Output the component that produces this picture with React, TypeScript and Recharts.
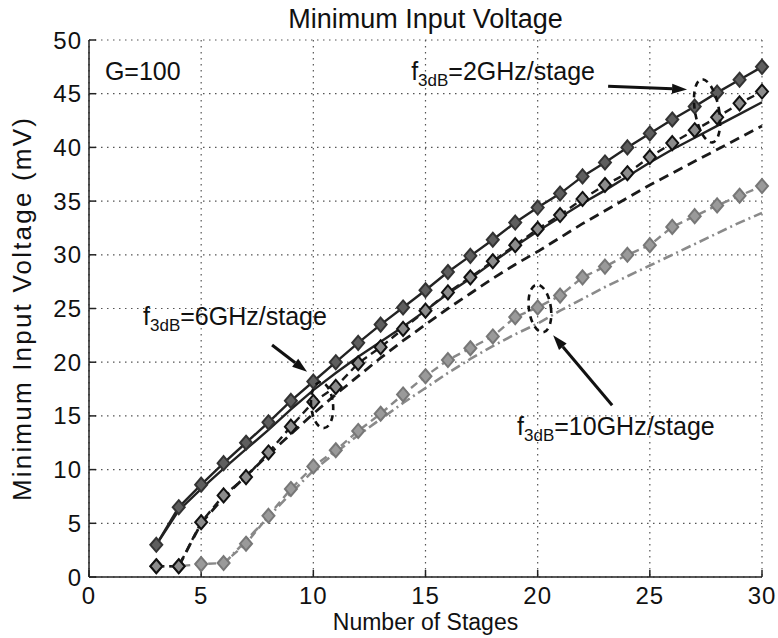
import React from 'react';
import {
  LineChart,
  Line,
  XAxis,
  YAxis,
  CartesianGrid,
  ReferenceDot,
  ReferenceLine,
} from 'recharts';

// number of stages (x values)
const stages = [3, 4, 5, 6, 7, 8, 9, 10, 11, 12, 13, 14, 15, 16, 17, 18, 19, 20, 21, 22, 23, 24, 25, 26, 27, 28, 29, 30];

// f3dB = 2GHz/stage
const sim2GHz = [3.0, 6.5, 8.6, 10.6, 12.5, 14.4, 16.4, 18.2, 20.0, 21.8, 23.5, 25.1, 26.7, 28.4, 29.9, 31.4, 33.0, 34.4, 35.7, 37.3, 38.6, 40.0, 41.3, 42.6, 43.8, 45.1, 46.3, 47.5];
const model2GHz = [3.0, 6.2, 8.2, 10.1, 11.9, 13.7, 15.6, 17.4, 19.0, 20.5, 21.9, 23.3, 24.8, 26.4, 27.8, 29.3, 30.8, 32.2, 33.5, 34.8, 36.0, 37.3, 38.6, 39.8, 40.9, 42.0, 43.1, 44.2];

// f3dB = 6GHz/stage
const sim6GHz = [1.0, 1.0, 5.1, 7.6, 9.3, 11.6, 14.0, 16.3, 17.7, 19.9, 21.4, 23.1, 24.8, 26.5, 27.9, 29.4, 30.9, 32.4, 33.7, 35.2, 36.5, 37.6, 39.1, 40.4, 41.6, 42.8, 44.1, 45.2];
const model6GHz = [null, 1.0, 5.0, 7.4, 9.4, 11.4, 13.3, 15.2, 17.0, 18.7, 20.4, 22.0, 23.5, 25.0, 26.4, 27.8, 29.1, 30.3, 31.6, 32.9, 34.1, 35.3, 36.5, 37.6, 38.7, 39.8, 40.9, 42.0];

// f3dB = 10GHz/stage
const sim10GHz = [1.0, 1.0, 1.2, 1.3, 3.1, 5.7, 8.2, 10.3, 11.8, 13.6, 15.2, 17.0, 18.7, 20.2, 21.3, 22.4, 24.2, 25.1, 26.2, 27.9, 28.9, 30.0, 30.9, 32.6, 33.6, 34.6, 35.5, 36.4];
const model10GHz = [null, null, null, 1.2, 3.4, 5.6, 7.8, 9.9, 11.6, 13.2, 14.7, 16.2, 17.6, 19.0, 20.3, 21.5, 22.6, 23.6, 24.8, 25.9, 27.0, 28.0, 29.0, 30.0, 31.0, 32.0, 33.0, 33.9];

const xTicks = [0, 5, 10, 15, 20, 25, 30];
const yTicks = [0, 5, 10, 15, 20, 25, 30, 35, 40, 45, 50];

// annotations, in data coordinates
const textNotes = [
  { x: 0.71, y: 46.3, main: 'G=100', sub: '', rest: '' },
  { x: 14.36, y: 46.3, main: 'f', sub: '3dB', rest: '=2GHz/stage' },
  { x: 2.41, y: 23.5, main: 'f', sub: '3dB', rest: '=6GHz/stage' },
  { x: 19.08, y: 13.2, main: 'f', sub: '3dB', rest: '=10GHz/stage' },
];
const arrows = [
  { from: [23.14, 45.7], to: [26.66, 45.4] },
  { from: [8.16, 21.6], to: [9.72, 19.1] },
  { from: [23.32, 16.0], to: [20.69, 22.5] },
];
const ellipses = [
  { x: 27.55, y: 43.4, rx: 12, ry: 32, rot: -10 },
  { x: 10.39, y: 16.0, rx: 11, ry: 23, rot: -5 },
  { x: 20.1, y: 25.0, rx: 11, ry: 24, rot: -8 },
];

const data = stages.map((n, i) => ({
  n,
  sim2: sim2GHz[i],
  model2: model2GHz[i],
  sim6: sim6GHz[i],
  model6: model6GHz[i],
  sim10: sim10GHz[i],
  model10: model10GHz[i],
}));

const FONT = '"Liberation Sans", Arial, Helvetica, sans-serif';
const FS = 23;
const TICK_FS = 24;
const NOTE_FS = 25;

const diamond = (fill: string, stroke: string) => (props: any) => {
  const { cx, cy, index } = props;
  if (cx == null || cy == null || isNaN(cy)) return <g key={index} />;
  return (
    <path
      key={index}
      d={`M${cx},${cy - 7} L${cx + 6},${cy} L${cx},${cy + 7} L${cx - 6},${cy} Z`}
      fill={fill}
      stroke={stroke}
      strokeWidth={2}
    />
  );
};

const arrowShape = (p: any) => {
  const { x1, y1, x2, y2 } = p;
  const ang = Math.atan2(y2 - y1, x2 - x1);
  const L = 15;
  const W = 5;
  const bx = x2 - L * Math.cos(ang);
  const by = y2 - L * Math.sin(ang);
  const px = -Math.sin(ang) * W;
  const py = Math.cos(ang) * W;
  return (
    <g>
      <line x1={x1} y1={y1} x2={bx} y2={by} stroke="#111" strokeWidth={3} />
      <polygon points={`${x2},${y2} ${bx + px},${by + py} ${bx - px},${by - py}`} fill="#111" />
    </g>
  );
};

export default function App() {
  return (
    <div style={{ position: 'absolute', left: 0, top: 0, width: 778, height: 638, background: '#fff' }}>
      <svg width={778} height={40} style={{ position: 'absolute', left: 0, top: 0 }}>
        <text x={425.5} y={28} textAnchor="middle" fontSize={27} fontFamily={FONT} fill="#111">
          Minimum Input Voltage
        </text>
      </svg>
      <LineChart
        width={778}
        height={638}
        data={data}
        margin={{ top: 40, right: 16, bottom: 0, left: 0 }}
        style={{ fontFamily: FONT }}
      >
        <CartesianGrid stroke="#555" strokeDasharray="1.5 4.5" strokeWidth={1.2} />
        <XAxis
          dataKey="n"
          type="number"
          domain={[0, 30]}
          ticks={xTicks}
          height={61}
          tickSize={-7}
          tickMargin={17}
          stroke="#222"
          strokeWidth={1.5}
          tick={{ fill: '#111', fontSize: TICK_FS, fontFamily: FONT, letterSpacing: 1 }}
          label={{
            content: (p: any) => {
              const vb = p.viewBox;
              return (
                <text x={vb.x + vb.width / 2} y={vb.y + 53} textAnchor="middle" fontSize={FS} fontFamily={FONT} fill="#111">
                  Number of Stages
                </text>
              );
            },
          }}
        />
        <XAxis
          xAxisId="top"
          orientation="top"
          type="number"
          domain={[0, 30]}
          ticks={xTicks}
          height={0}
          tickSize={-7}
          tick={false}
          stroke="#222"
          strokeWidth={1.5}
        />
        <YAxis
          type="number"
          domain={[0, 50]}
          ticks={yTicks}
          width={89}
          tickSize={-7}
          tickMargin={14}
          stroke="#222"
          strokeWidth={1.5}
          tick={{ fill: '#111', fontSize: TICK_FS, fontFamily: FONT, letterSpacing: 1 }}
          label={{
            content: (p: any) => {
              const vb = p.viewBox;
              const cx = vb.x + 22;
              const cy = vb.y + vb.height / 2;
              return (
                <text
                  x={cx}
                  y={cy}
                  transform={`rotate(-90 ${cx} ${cy})`}
                  textAnchor="middle"
                  dominantBaseline="central"
                  fontSize={26}
                  letterSpacing={2.2}
                  fontFamily={FONT}
                  fill="#111"
                >
                  Minimum Input Voltage (mV)
                </text>
              );
            },
          }}
        />
        <YAxis
          yAxisId="right"
          orientation="right"
          type="number"
          domain={[0, 50]}
          ticks={yTicks}
          width={0}
          tickSize={-7}
          tick={false}
          stroke="#222"
          strokeWidth={1.5}
        />

        <Line
          dataKey="model10"
          stroke="#8a8a8a"
          strokeWidth={2.6}
          strokeDasharray="10 4 2 4"
          dot={false}
          isAnimationActive={false}
        />
        <Line
          dataKey="sim10"
          stroke="#888"
          strokeWidth={2.4}
          strokeDasharray="8 5"
          dot={diamond('#9a9a9a', '#777')}
          isAnimationActive={false}
        />
        <Line
          dataKey="model6"
          stroke="#1a1a1a"
          strokeWidth={2.8}
          strokeDasharray="10 6"
          dot={false}
          isAnimationActive={false}
        />
        <Line
          dataKey="sim6"
          stroke="#1a1a1a"
          strokeWidth={2.4}
          strokeDasharray="8 5"
          dot={diamond('#8c8c8c', '#111')}
          isAnimationActive={false}
        />
        <Line
          dataKey="model2"
          stroke="#222"
          strokeWidth={2.4}
          dot={false}
          isAnimationActive={false}
        />
        <Line
          dataKey="sim2"
          stroke="#222"
          strokeWidth={2.4}
          dot={diamond('#5e5e5e', '#333')}
          isAnimationActive={false}
        />

        {ellipses.map((e, i) => (
          <ReferenceDot
            key={`el${i}`}
            x={e.x}
            y={e.y}
            r={1}
            shape={(p: any) => (
              <ellipse
                cx={p.cx}
                cy={p.cy}
                rx={e.rx}
                ry={e.ry}
                transform={`rotate(${e.rot} ${p.cx} ${p.cy})`}
                fill="none"
                stroke="#111"
                strokeWidth={2.6}
                strokeDasharray="6 5"
              />
            )}
          />
        ))}
        {arrows.map((a, i) => (
          <ReferenceLine
            key={`ar${i}`}
            segment={[
              { x: a.from[0], y: a.from[1] },
              { x: a.to[0], y: a.to[1] },
            ]}
            shape={arrowShape}
          />
        ))}
        {textNotes.map((t, i) => (
          <ReferenceDot
            key={`tx${i}`}
            x={t.x}
            y={t.y}
            r={1}
            shape={(p: any) => (
              <text x={p.cx} y={p.cy} fontSize={NOTE_FS} fontFamily={FONT} fill="#111">
                <tspan>{t.main}</tspan>
                {t.sub && (
                  <tspan fontSize={17} dy={6}>
                    {t.sub}
                  </tspan>
                )}
                {t.rest && (
                  <tspan fontSize={NOTE_FS} dy={-6}>
                    {t.rest}
                  </tspan>
                )}
              </text>
            )}
          />
        ))}
      </LineChart>
    </div>
  );
}
